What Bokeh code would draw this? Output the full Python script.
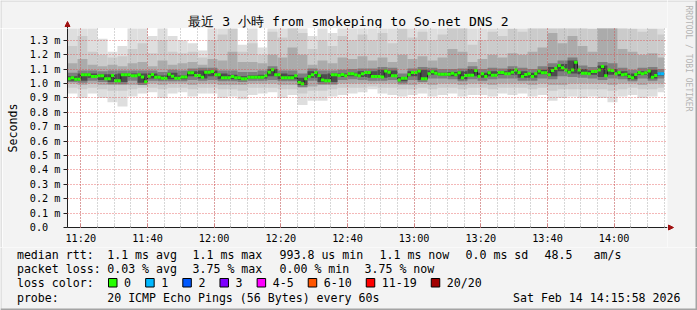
import math
from datetime import datetime, timedelta

from bokeh.plotting import figure
from bokeh.layouts import column, row
from bokeh.models import FixedTicker, DatetimeTickFormatter, Range1d
from bokeh.core.properties import value
from bokeh.embed import file_html
from bokeh.resources import INLINE

# ---------------- data ----------------
TITLE = "最近 3 小時 from smokeping to So-net DNS 2"
START = datetime(2026, 2, 14, 11, 16)
END = datetime(2026, 2, 14, 14, 16)

# median RTT per minute (ms)
median_ms = [
    1.033, 1.040, 1.030, 1.030, 1.060, 1.060, 1.060, 1.049, 1.049, 1.053,
    1.053, 1.033, 1.033, 1.056, 1.019, 1.019, 1.060, 1.060, 1.060, 1.053,
    1.053, 1.060, 1.046, 1.012, 1.051, 1.063, 1.044, 1.044, 1.037, 1.037,
    1.065, 1.050, 1.037, 1.037, 1.046, 1.046, 1.074, 1.074, 1.056, 1.056,
    1.044, 1.079, 1.079, 1.083, 1.060, 1.060, 1.040, 1.040, 1.040, 1.049,
    1.040, 1.040, 1.033, 1.033, 1.044, 1.044, 1.044, 1.044, 1.044, 1.053,
    1.079, 1.095, 1.060, 1.060, 1.040, 1.040, 1.040, 1.040, 1.053, 1.007,
    0.998, 1.033, 1.049, 1.060, 1.077, 1.056, 1.025, 1.019, 1.019, 1.060,
    1.060, 1.056, 1.062, 1.053, 1.067, 1.067, 1.060, 1.053, 1.067, 1.077,
    1.077, 1.049, 1.049, 1.049, 1.046, 1.086, 1.079, 1.053, 1.053, 1.025,
    1.037, 1.037, 1.060, 1.077, 1.077, 1.086, 1.033, 1.033, 1.067, 1.081,
    1.072, 1.065, 1.065, 1.065, 1.065, 1.072, 1.060, 1.074, 1.040, 1.056,
    1.058, 1.058, 1.090, 1.049, 1.067, 1.049, 1.074, 1.058, 1.058, 1.077,
    1.077, 1.067, 1.067, 1.079, 1.093, 1.077, 1.049, 1.063, 1.067, 1.049,
    1.067, 1.086, 1.074, 1.074, 1.060, 1.090, 1.104, 1.125, 1.109, 1.093,
    1.079, 1.093, 1.148, 1.093, 1.072, 1.072, 1.067, 1.083, 1.083, 1.093,
    1.118, 1.053, 1.093, 1.090, 1.067, 1.077, 1.060, 1.065, 1.049, 1.040,
    1.062, 1.077, 1.067, 1.074, 1.086, 1.044, 1.056, 1.067, 1.067,
]
# packets lost per minute (of 20)
loss = [0] * 177 + [1, 1]

# smoke (ping distribution) per 3-minute block, ms: nested bands, outer -> inner
smoke_min = [
    0.93, 0.90, 0.93, 0.90, 0.87, 0.84, 0.91, 0.93, 0.94, 0.90,
    0.93, 0.94, 0.91, 0.93, 0.93, 0.90, 0.91, 0.89, 0.92, 0.93,
    0.94, 0.90, 0.92, 0.85, 0.88, 0.88, 0.91, 0.92, 0.93, 0.94,
    0.96, 0.93, 0.92, 0.91, 0.92, 0.93, 0.91, 0.92, 0.93, 0.91,
    0.92, 0.92, 0.91, 0.93, 0.92, 0.93, 0.91, 0.92, 0.88, 0.90,
    0.91, 0.90, 0.91, 0.90, 0.87, 0.91, 0.92, 0.90, 0.91, 0.94,
]
smoke_max = [
    1.40, 1.40, 1.40, 1.31, 1.22, 1.26, 1.40, 1.40, 1.33, 1.40,
    1.33, 1.30, 1.28, 1.23, 1.40, 1.40, 1.40, 1.27, 1.40, 1.25,
    1.40, 1.40, 1.40, 1.40, 1.33, 1.40, 1.35, 1.40, 1.40, 1.40,
    1.40, 1.40, 1.40, 1.40, 1.40, 1.40, 1.40, 1.40, 1.40, 1.40,
    1.40, 1.40, 1.40, 1.40, 1.40, 1.40, 1.40, 1.40, 1.40, 1.40,
    1.40, 1.40, 1.40, 1.40, 1.40, 1.40, 1.40, 1.40, 1.40, 1.40,
]
smoke_lo2 = [
    0.97, 0.96, 0.97, 0.96, 0.95, 0.95, 0.96, 0.97, 0.97, 0.96,
    0.97, 0.97, 0.96, 0.97, 0.97, 0.96, 0.96, 0.95, 0.97, 0.97,
    0.97, 0.96, 0.96, 0.93, 0.95, 0.95, 0.96, 0.97, 0.97, 0.97,
    0.98, 0.97, 0.97, 0.96, 0.96, 0.97, 0.96, 0.97, 0.97, 0.96,
    0.97, 0.97, 0.96, 0.97, 0.97, 0.97, 0.96, 0.97, 0.95, 0.96,
    0.96, 0.96, 0.96, 0.96, 0.95, 0.96, 0.97, 0.96, 0.96, 0.97,
]
smoke_hi2 = [
    1.26, 1.33, 1.22, 1.20, 1.18, 1.19, 1.24, 1.28, 1.21, 1.30,
    1.22, 1.21, 1.22, 1.18, 1.30, 1.34, 1.38, 1.22, 1.28, 1.20,
    1.36, 1.32, 1.40, 1.35, 1.24, 1.30, 1.26, 1.33, 1.30, 1.34,
    1.30, 1.35, 1.28, 1.38, 1.32, 1.36, 1.30, 1.34, 1.40, 1.40,
    1.27, 1.30, 1.36, 1.33, 1.38, 1.36, 1.40, 1.40, 1.40, 1.40,
    1.40, 1.40, 1.38, 1.40, 1.40, 1.40, 1.38, 1.36, 1.38, 1.34,
]
smoke_lo3 = [
    1.00, 0.99, 1.00, 0.99, 0.99, 0.99, 0.99, 1.00, 1.00, 0.99,
    1.00, 1.00, 0.99, 1.00, 1.00, 0.99, 0.99, 0.99, 1.00, 1.00,
    1.00, 0.99, 0.99, 0.97, 0.98, 0.99, 0.99, 1.00, 1.00, 1.00,
    1.00, 1.00, 1.00, 0.99, 0.99, 1.00, 0.99, 1.00, 1.00, 0.99,
    1.00, 1.00, 0.99, 1.00, 1.00, 1.00, 0.99, 1.00, 0.99, 0.99,
    1.00, 1.00, 1.00, 1.00, 0.99, 1.00, 1.00, 0.99, 1.00, 1.00,
]
smoke_hi3 = [
    1.14, 1.17, 1.13, 1.12, 1.13, 1.12, 1.14, 1.15, 1.12, 1.16,
    1.13, 1.14, 1.15, 1.13, 1.17, 1.16, 1.22, 1.15, 1.15, 1.14,
    1.20, 1.18, 1.25, 1.20, 1.13, 1.16, 1.14, 1.18, 1.17, 1.19,
    1.16, 1.18, 1.15, 1.20, 1.17, 1.19, 1.16, 1.18, 1.24, 1.22,
    1.15, 1.17, 1.20, 1.18, 1.21, 1.20, 1.22, 1.25, 1.35, 1.28,
    1.33, 1.26, 1.22, 1.40, 1.40, 1.24, 1.22, 1.20, 1.21, 1.18,
]
smoke_lo4 = [
    1.010, 1.005, 1.020, 1.010, 0.995, 0.995, 1.020, 0.990, 1.020, 1.015,
    1.015, 1.015, 1.025, 1.020, 1.025, 1.015, 1.015, 1.010, 1.020, 1.020,
    1.025, 1.015, 1.015, 0.975, 1.020, 0.995, 0.995, 1.025, 1.030, 1.025,
    1.020, 1.020, 1.025, 1.000, 1.025, 1.010, 1.035, 1.035, 1.030, 1.015,
    1.030, 1.020, 1.030, 1.035, 1.035, 1.020, 1.020, 1.035, 1.030, 1.050,
    1.045, 1.040, 1.035, 1.025, 1.035, 1.030, 1.015, 1.035, 1.020, 1.035,
]
smoke_hi4 = [
    1.075, 1.090, 1.090, 1.085, 1.090, 1.090, 1.090, 1.090, 1.090, 1.080,
    1.095, 1.090, 1.105, 1.110, 1.110, 1.090, 1.090, 1.080, 1.080, 1.090,
    1.120, 1.090, 1.090, 1.070, 1.105, 1.090, 1.090, 1.095, 1.100, 1.105,
    1.105, 1.115, 1.110, 1.070, 1.105, 1.115, 1.110, 1.100, 1.100, 1.105,
    1.120, 1.100, 1.110, 1.105, 1.120, 1.110, 1.100, 1.120, 1.140, 1.160,
    1.180, 1.125, 1.115, 1.150, 1.140, 1.110, 1.095, 1.110, 1.115, 1.100,
]
smoke_lo5 = [
    1.020, 1.020, 1.040, 1.025, 1.010, 1.010, 1.045, 1.005, 1.035, 1.030,
    1.030, 1.030, 1.050, 1.035, 1.050, 1.030, 1.030, 1.025, 1.035, 1.035,
    1.050, 1.030, 1.030, 0.990, 1.040, 1.010, 1.010, 1.045, 1.050, 1.045,
    1.040, 1.040, 1.045, 1.015, 1.050, 1.025, 1.060, 1.055, 1.050, 1.030,
    1.050, 1.040, 1.050, 1.060, 1.060, 1.040, 1.040, 1.065, 1.050, 1.085,
    1.070, 1.065, 1.060, 1.045, 1.060, 1.050, 1.030, 1.060, 1.035, 1.055,
]
smoke_hi5 = [
    1.050, 1.070, 1.070, 1.065, 1.065, 1.070, 1.070, 1.070, 1.070, 1.055,
    1.075, 1.055, 1.085, 1.090, 1.090, 1.070, 1.060, 1.050, 1.055, 1.060,
    1.100, 1.070, 1.060, 1.040, 1.085, 1.065, 1.070, 1.070, 1.075, 1.085,
    1.085, 1.095, 1.090, 1.045, 1.085, 1.095, 1.090, 1.075, 1.080, 1.085,
    1.100, 1.075, 1.085, 1.085, 1.100, 1.085, 1.075, 1.095, 1.115, 1.135,
    1.160, 1.100, 1.090, 1.125, 1.100, 1.085, 1.070, 1.085, 1.095, 1.075,
]

y_ticks = [0.0, 0.1, 0.2, 0.3, 0.4, 0.5, 0.6, 0.7, 0.8, 0.9, 1.0, 1.1, 1.2, 1.3]
y_tick_labels = ["0.0\u00a0\u00a0", "0.1 m", "0.2 m", "0.3 m", "0.4 m", "0.5 m",
                 "0.6 m", "0.7 m", "0.8 m", "0.9 m", "1.0 m", "1.1 m", "1.2 m", "1.3 m"]
x_tick_times = ["11:20", "11:40", "12:00", "12:20", "12:40", "13:00", "13:20", "13:40", "14:00"]

loss_labels = ["0", "1", "2", "3", "4-5", "6-10", "11-19", "20/20"]
loss_colors = ["#26ff00", "#00b8ff", "#0059ff", "#7e00ff", "#ff00ff", "#ff5500", "#ff0000", "#a10000"]
loss_bins = [0, 1, 2, 3, 5, 10, 19, 20]   # upper bound of each loss class

stats_rtt = ["median rtt:", "1.1 ms avg", "1.1 ms max", "993.8 us min", "1.1 ms now",
             "0.0 ms sd", "48.5", "am/s"]
stats_loss = ["packet loss:", "0.03 % avg", "3.75 % max", "0.00 % min", "3.75 % now"]
probe_text = ["probe:", "20 ICMP Echo Pings (56 Bytes) every 60s"]
stamp_text = "Sat Feb 14 14:15:58 2026"
watermark = "RRDTOOL / TOBI OETIKER"

# ---------------- layout constants (canvas pixels) ----------------
W, H = 697, 310
FL, FR, FT, FB = 67, 667, 28, 227      # plot frame edges
LS = 2                                 # width of the left border strip
MAIN_BOTTOM = 247                      # bottom of the main figure (x labels)
BG = "#f3f3f3"
SHADE_A = "#d0d0d0"                    # light 3D border (top/left)
SHADE_B = "#a4a4a4"                    # dark 3D border (bottom/right)
MONO = "DejaVu Sans Mono"
ARROW = "#a01010"
EPOCH = datetime(1970, 1, 1)


def ms(dt):
    return (dt - EPOCH).total_seconds() * 1000.0


def panel_fig(x0, x1, y0, y1):
    """A plain figure whose frame fills it; ranges are canvas pixels (y down)."""
    f = figure(width=x1 - x0, height=y1 - y0, output_backend="svg",
               toolbar_location=None, min_border=0,
               x_range=Range1d(x0, x1), y_range=Range1d(y1, y0),
               x_axis_location=None, y_axis_location=None)
    f.grid.visible = False
    f.outline_line_color = None
    f.background_fill_color = BG
    f.border_fill_color = BG
    f.frame_align = False
    return f


def put_text(f, x, y, text, size="11.6px", color="black", align="left", angle=0.0):
    f.text(x=[x], y=[y], text=[text], text_font=value(MONO),
           text_font_size=value(size), text_color=color, text_align=align,
           text_baseline="middle", angle=angle)


def edge(f, x0, x1, y0, y1, color):
    f.quad(left=[x0], right=[x1], top=[y0], bottom=[y1], fill_color=color, line_color=None)


# ---------------- main plot ----------------
p = figure(width=FR - LS, height=MAIN_BOTTOM - FT, output_backend="svg",
           toolbar_location=None,
           x_range=Range1d(ms(START), ms(END)), y_range=Range1d(0, 1.382),
           x_axis_type="datetime",
           min_border_left=FL - LS, min_border_right=0,
           min_border_top=0, min_border_bottom=MAIN_BOTTOM - FB)
p.background_fill_color = "white"
p.border_fill_color = BG
p.outline_line_color = None
p.frame_align = False

# smoke bands
n = len(median_ms)
t_edges = [ms(START + timedelta(minutes=k)) for k in range(n + 1)]
ng = len(smoke_min)
g_left = [ms(START + timedelta(minutes=3 * g)) for g in range(ng)]
g_right = [min(ms(START + timedelta(minutes=3 * g + 3)), t_edges[-1]) for g in range(ng)]
bands = [
    (smoke_min, smoke_max, "#dedede"),
    (smoke_lo2, smoke_hi2, "#cbcbcb"),
    (smoke_lo3, smoke_hi3, "#ababab"),
    (smoke_lo4, smoke_hi4, "#7e7e7e"),
    (smoke_lo5, smoke_hi5, "#4c4c4c"),
]
for lo, hi, c in bands:
    p.quad(left=g_left, right=g_right, bottom=lo, top=hi,
           fill_color=c, line_color=None)

# median: thin dark step line + loss-coloured segments
p.step(x=t_edges, y=median_ms + [median_ms[-1]], mode="after",
       line_color="#202020", line_width=1)


def loss_color(l):
    for b, c in zip(loss_bins, loss_colors):
        if l <= b:
            return c
    return loss_colors[-1]


seg_colors = [loss_color(l) for l in loss]
p.segment(x0=t_edges[:-1], x1=t_edges[1:], y0=median_ms, y1=median_ms,
          line_color=seg_colors, line_width=3)

# axes
major_ms = [ms(datetime.strptime("2026-02-14 " + s, "%Y-%m-%d %H:%M")) for s in x_tick_times]
minor_ms = [ms(START + timedelta(minutes=m)) for m in range(4, 181, 5)]
p.xaxis.ticker = FixedTicker(ticks=major_ms, minor_ticks=minor_ms)
p.xaxis.formatter = DatetimeTickFormatter(minutes="%H:%M", hours="%H:%M", hourmin="%H:%M")
p.yaxis.ticker = FixedTicker(ticks=y_ticks)
p.yaxis.major_label_overrides = dict(zip(y_ticks, y_tick_labels))

for ax in (p.xaxis[0], p.yaxis[0]):
    ax.major_label_text_font = MONO
    ax.major_label_text_font_size = "10.2px"
    ax.major_label_text_color = "black"
    ax.axis_line_color = "#202020"

p.xaxis.major_tick_in = 3
p.xaxis.major_tick_out = 0
p.xaxis.major_tick_line_color = "#e06060"
p.xaxis.minor_tick_in = 2
p.xaxis.minor_tick_out = 0
p.xaxis.minor_tick_line_color = "#b0b0b0"
p.xaxis.major_label_standoff = 5

p.yaxis.major_tick_in = 0
p.yaxis.major_tick_out = 4
p.yaxis.major_tick_line_color = "#202020"
p.yaxis.minor_tick_line_color = None
p.yaxis.major_label_standoff = 3
p.yaxis.axis_label = "Seconds"
p.yaxis.axis_label_text_font = MONO
p.yaxis.axis_label_text_font_size = "11.6px"
p.yaxis.axis_label_text_font_style = "normal"
p.yaxis.axis_label_text_color = "black"
p.yaxis.axis_label_standoff = 7

# grid drawn over the smoke, as rrdtool does
p.xgrid.grid_line_color = "#e04040"
p.xgrid.grid_line_alpha = 0.75
p.xgrid.grid_line_dash = "1 2"
p.xgrid.minor_grid_line_color = "#a0a0a0"
p.xgrid.minor_grid_line_alpha = 0.85
p.xgrid.minor_grid_line_dash = "1 2"
p.ygrid.grid_line_color = "#e04040"
p.ygrid.grid_line_alpha = 0.75
p.ygrid.grid_line_dash = "1 2"
p.xgrid.level = "annotation"
p.ygrid.level = "annotation"

# ---------------- left border strip beside the main plot ----------------
lstrip = panel_fig(0, LS, FT, MAIN_BOTTOM)
edge(lstrip, 0, 1, FT, MAIN_BOTTOM, SHADE_A)

# ---------------- title strip (above the frame) ----------------
top = panel_fig(0, FR, 0, FT)
put_text(top, 348, 21, TITLE, size="13.1px", align="center")
top.segment(x0=[FL], y0=[FT], x1=[FL], y1=[25], line_color="#202020", line_width=1)
top.patch(x=[FL - 2.5, FL + 2.5, FL], y=[26, 26, 21], fill_color=ARROW, line_color=ARROW)
edge(top, 0, FR, 0, 1, SHADE_A)
edge(top, 0, 1, 0, FT, SHADE_A)

# ---------------- right strip (watermark, x-axis arrow) ----------------
side = panel_fig(FR, W, 0, MAIN_BOTTOM)
put_text(side, 688, 58, watermark, size="8px", color="#b4b4b4", align="center",
         angle=-math.pi / 2)
side.segment(x0=[FR], y0=[FB], x1=[669], y1=[FB], line_color="#202020", line_width=1)
side.patch(x=[668, 668, 673], y=[FB - 2.5, FB + 2.5, FB], fill_color=ARROW, line_color=ARROW)
edge(side, FR, W, 0, 1, SHADE_A)
edge(side, W - 2, W, 0, MAIN_BOTTOM, SHADE_B)

# ---------------- legend strip ----------------
leg = panel_fig(0, W, MAIN_BOTTOM, H)
rtt_x = [16.4, 106.7, 192, 279, 379, 465, 544, 593]
for s, x in zip(stats_rtt, rtt_x):
    put_text(leg, x, 254, s)
loss_x = [16.4, 106.7, 192, 279, 364]
for s, x in zip(stats_loss, loss_x):
    put_text(leg, x, 268, s)
put_text(leg, 16.4, 282, "loss color:")
put_text(leg, 16.4, 297, probe_text[0])
put_text(leg, 106.7, 297, probe_text[1])
put_text(leg, 680, 297, stamp_text, align="right")

CW = 6.96
bx = 108.0
box_l, box_r, text_x = [], [], []
for lab in loss_labels:
    tx = bx + 15.6
    box_l.append(bx)
    box_r.append(bx + 8.5)
    text_x.append(tx)
    bx = tx + len(lab) * CW + 14.6
leg.quad(left=box_l, right=box_r, top=[278] * len(box_l), bottom=[286.5] * len(box_l),
         fill_color=loss_colors, line_color="black", line_width=1)
for tx, lab in zip(text_x, loss_labels):
    put_text(leg, tx, 282, lab)
edge(leg, 0, 1, MAIN_BOTTOM, H, SHADE_A)
edge(leg, 0, W, H - 2, H, SHADE_B)
edge(leg, W - 2, W, MAIN_BOTTOM, H, SHADE_B)

layout = column(row(column(top, row(lstrip, p)), side), leg)
open("out.html", "w").write(file_html(layout, INLINE))
